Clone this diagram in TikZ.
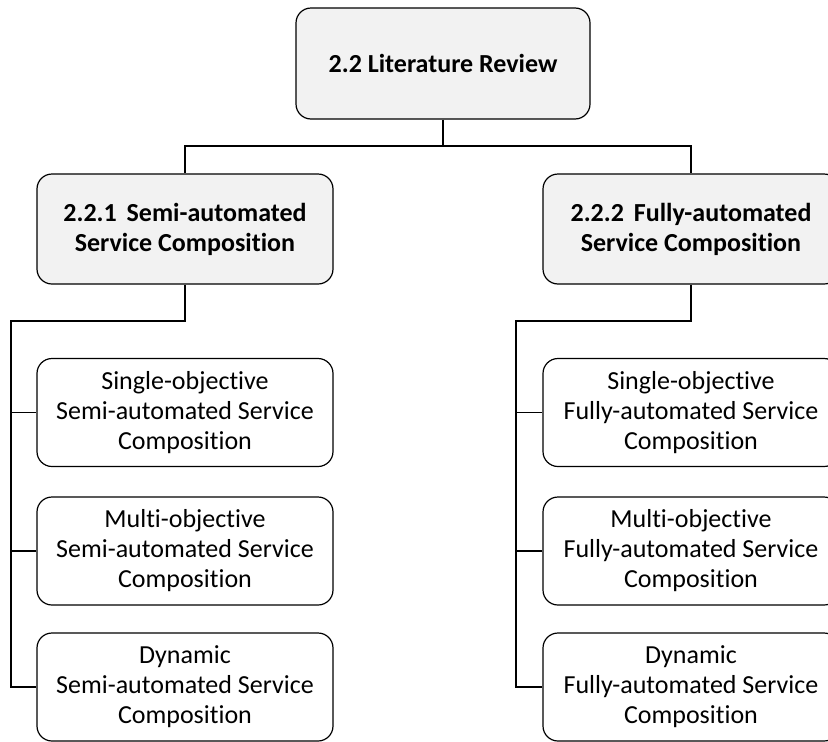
\documentclass[tikz,border=0pt]{standalone}
\usepackage{fontspec}
\setmainfont{Carlito}[Ligatures=NoCommon]
\usetikzlibrary{calc}
\begin{document}
\begin{tikzpicture}[x=1pt,y=-1pt,
  line width=1.2pt,
  box/.style={draw=black, rounded corners=15pt, minimum width=296pt, align=center, inner sep=0pt},
  headbox/.style={box, fill=black!5, font=\fontsize{26}{30}\selectfont\bfseries, minimum height=110pt},
  leafbox/.style={box, fill=white, font=\fontsize{26}{30}\selectfont, minimum height=108pt},
  link/.style={draw=black, line width=1.2pt}]
\clip (0,0) rectangle (828,742);
\useasboundingbox (0,0) rectangle (828,742);

% root
\node[headbox, minimum width=294pt, minimum height=111pt] (root) at (443,63.5) {2.2 Literature Review};

% second level
\node[headbox] (semi)  at (185,229) {2.2.1\hspace{4pt} Semi-automated\\Service Composition};
\node[headbox] (fully) at (691,229) {2.2.2\hspace{4pt} Fully-automated\\Service Composition};

% leaves, semi-automated
\node[leafbox] (s1) at (185,412.5) {Single-objective\\Semi-automated Service\\Composition};
\node[leafbox] (s2) at (185,551)   {Multi-objective\\Semi-automated Service\\Composition};
\node[leafbox] (s3) at (185,687)   {Dynamic\\Semi-automated Service\\Composition};

% leaves, fully-automated
\node[leafbox] (f1) at (691,412.5) {Single-objective\\Fully-automated Service\\Composition};
\node[leafbox] (f2) at (691,551)   {Multi-objective\\Fully-automated Service\\Composition};
\node[leafbox] (f3) at (691,687)   {Dynamic\\Fully-automated Service\\Composition};

% junction points
\coordinate (bus) at (443,146);
\coordinate (lspine) at (11,321);
\coordinate (rspine) at (516,321);

% root to second level
\draw[link] (root.south) -- (bus);
\draw[link] (bus) -| (semi.north);
\draw[link] (bus) -| (fully.north);

% second level to leaves
\draw[link] (semi.south) |- (lspine) |- (s3.west);
\draw[link] (lspine |- s1.west) -- (s1.west);
\draw[link] (lspine |- s2.west) -- (s2.west);

\draw[link] (fully.south) |- (rspine) |- (f3.west);
\draw[link] (rspine |- f1.west) -- (f1.west);
\draw[link] (rspine |- f2.west) -- (f2.west);
\end{tikzpicture}
\end{document}
